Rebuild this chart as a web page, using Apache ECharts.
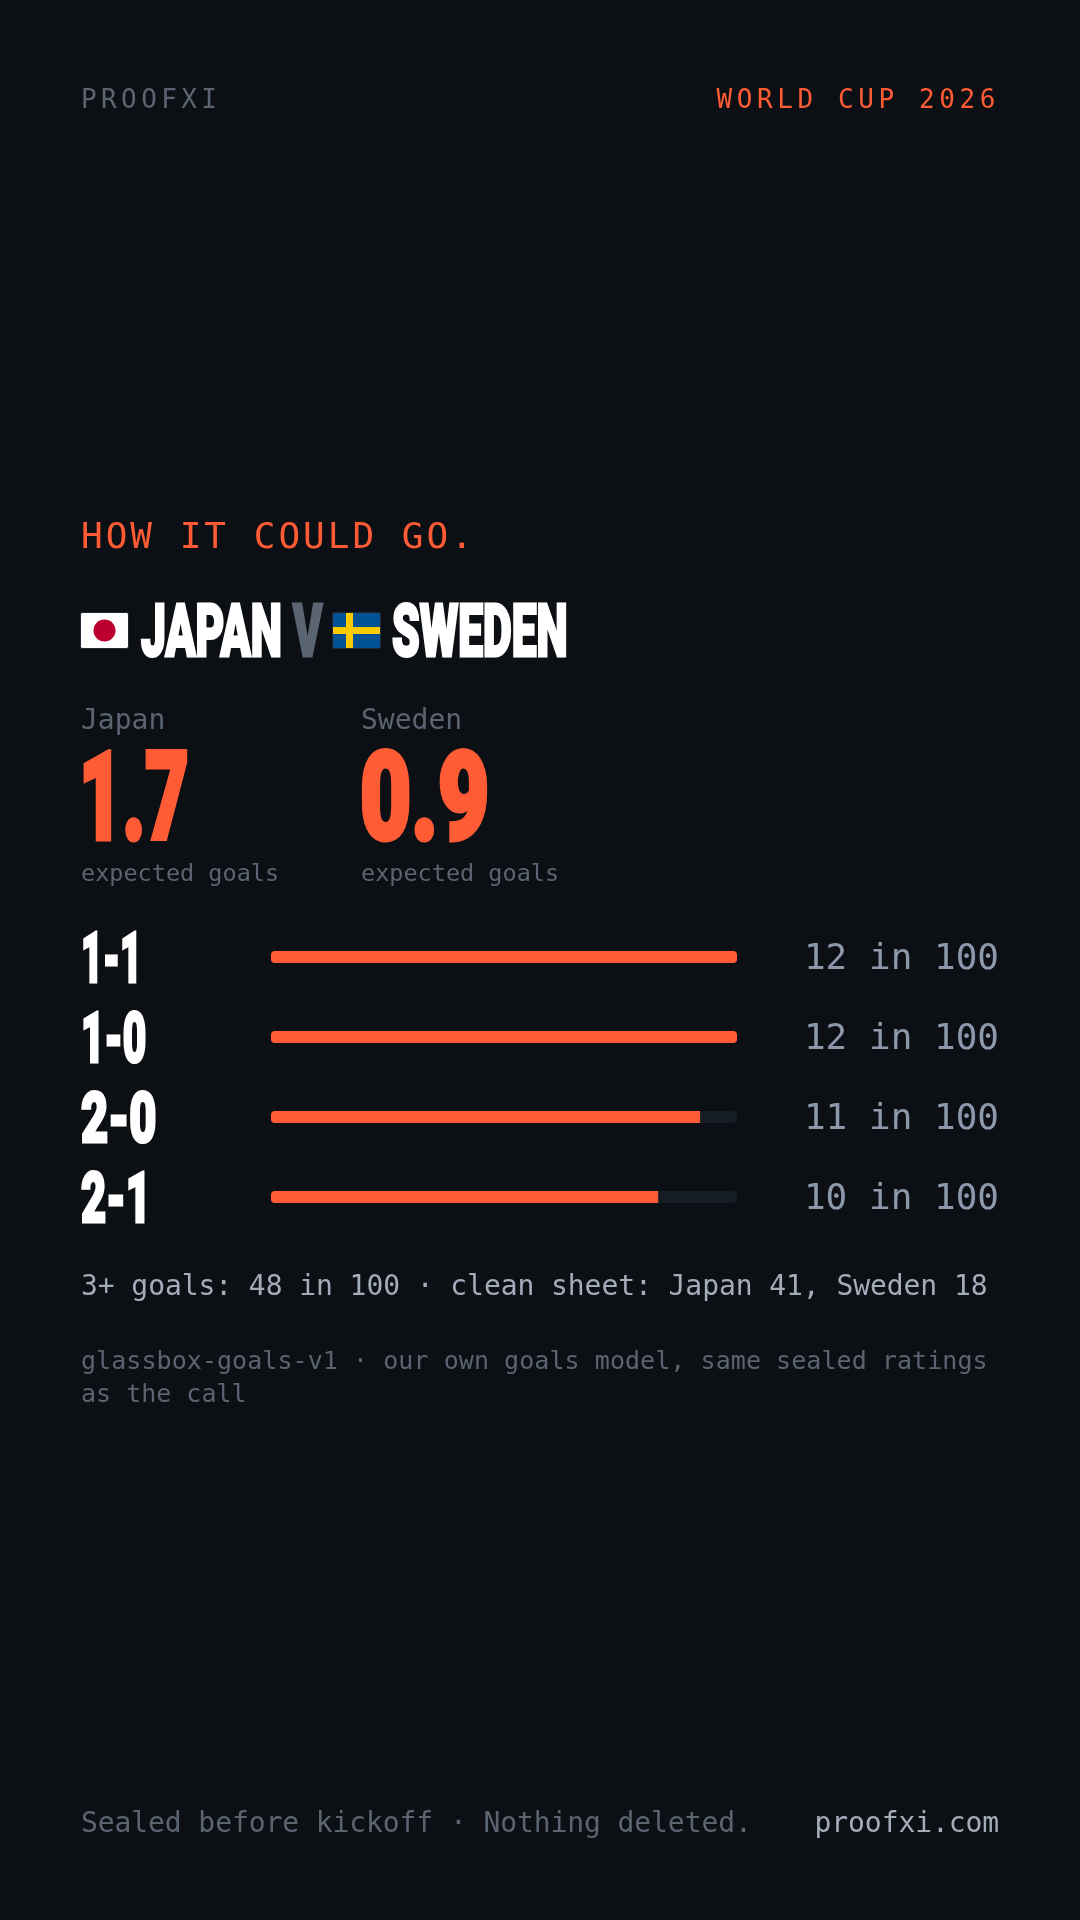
<!DOCTYPE html>
<html><head><meta charset="utf-8">
<style>html,body{margin:0;padding:0;background:#0c0f14}#c{width:1080px;height:1920px}</style>
<script src="https://cdn.jsdelivr.net/npm/echarts@6/dist/echarts.min.js"></script>
</head><body><div id="c"></div>
<script>
// --- data ---
const scorelines = ['1-1', '1-0', '2-0', '2-1'];
const chanceLabels = ['12 in 100', '12 in 100', '11 in 100', '10 in 100'];
const chances = [12, 12, 11.05, 9.97];
const chanceMax = 12;
const teams = ['Japan', 'Sweden'];
const expectedGoals = ['1.7', '0.9'];
const brand = 'PROOFXI';
const tournament = 'WORLD CUP 2026';
const headline = 'HOW IT COULD GO.';
const summary = '3+ goals: 48 in 100 · clean sheet: Japan 41, Sweden 18';
const methodLine1 = 'glassbox-goals-v1 · our own goals model, same sealed ratings';
const methodLine2 = 'as the call';
const footerLeft = 'Sealed before kickoff · Nothing deleted.';
const footerRight = 'proofxi.com';

// --- style ---
const BG = '#0c0f14', ORANGE = '#ff5c35', TRACK = '#151c26', MUTED = '#5b6572', SOFT = '#8d99ab', LIGHT = '#a3adba', WHITE = '#ffffff';
const MONO = '"DejaVu Sans Mono"', DISPLAY = 'Roboto';
const CONDENSE = 0.615;
const condensed = { '0.9': 0.725, '1-1': 0.54, '1-0': 0.58, '2-0': 0.67, '2-1': 0.62 };
const tracked = { [brand]: 4.4, [tournament]: 4.6, [headline]: 3, [summary]: -0.07, [methodLine1]: 0.06, [footerLeft]: -0.09, [footerRight]: -0.09 };

// Canvas text tweaks that ECharts has no option for: tracking, condensed display type and baseline trim
['fillText', 'strokeText'].forEach(function (fn) {
  const orig = CanvasRenderingContext2D.prototype[fn];
  CanvasRenderingContext2D.prototype[fn] = function (t, x, y) {
    this.letterSpacing = (tracked[t] || 0) + 'px';
    const size = parseFloat((this.font.match(/([\d.]+)px/) || [0, 0])[1]);
    if (this.font.indexOf(DISPLAY) >= 0) {
      this.save(); this.lineJoin = 'miter';
      this.translate(x, y + size * 0.1); this.scale(condensed[t] || CONDENSE, 1);
      orig.call(this, t, 0, 0); this.restore();
    } else orig.call(this, t, x, y + size * 0.08);
  };
});

function mono(text, x, y, size, fill, align) {
  return { type: 'text', x: x, y: y, silent: true, style: { text: text, fill: fill, font: size + 'px ' + MONO, align: align || 'left', verticalAlign: 'middle' } };
}
function display(text, x, y, size, fill, border) {
  return { type: 'text', x: x, y: y, silent: true, style: { text: text, fill: fill, font: '900 ' + size + 'px ' + DISPLAY, align: 'left', verticalAlign: 'middle', stroke: fill, lineWidth: border } };
}
const flagEdge = '#1f2937';
const graphic = [
  mono(brand, 81, 99, 26, MUTED),
  mono(tournament, 1000, 99, 26, ORANGE, 'right'),
  mono(headline, 81, 536, 36, ORANGE),
  // Japan flag
  { type: 'rect', shape: { x: 80.5, y: 612.5, width: 48, height: 36, r: 2 }, style: { fill: WHITE, stroke: flagEdge, lineWidth: 1 } },
  { type: 'circle', shape: { cx: 104.5, cy: 630.5, r: 11 }, style: { fill: '#bc002d' } },
  display('JAPAN', 141, 631, 72, WHITE, 3),
  display('V', 293, 631, 72, MUTED, 3),
  // Sweden flag
  { type: 'rect', shape: { x: 332.5, y: 612.5, width: 48, height: 36, r: 2 }, style: { fill: '#005293', stroke: flagEdge, lineWidth: 1 } },
  { type: 'rect', shape: { x: 346, y: 613, width: 7, height: 35 }, style: { fill: '#fecb00' } },
  { type: 'rect', shape: { x: 333, y: 627, width: 47, height: 7 }, style: { fill: '#fecb00' } },
  display('SWEDEN', 392, 631, 72, WHITE, 3),
  mono(teams[0], 81, 719, 28, MUTED),
  mono(teams[1], 361, 719, 28, MUTED),
  display(expectedGoals[0], 79, 796, 122, ORANGE, 5),
  display(expectedGoals[1], 360, 796, 122, ORANGE, 5),
  mono('expected goals', 81, 873, 23.5, MUTED),
  mono('expected goals', 361, 873, 23.5, MUTED),
  mono(summary, 81, 1285, 28, LIGHT),
  mono(methodLine1, 81, 1360, 25, MUTED),
  mono(methodLine2, 81, 1393, 25, MUTED),
  mono(footerLeft, 81, 1822, 28, MUTED),
  mono(footerRight, 999, 1822, 28, LIGHT, 'right')
];

const chart = echarts.init(document.getElementById('c'), null, { renderer: 'canvas', width: 1080, height: 1920 });
chart.setOption({
  animation: false,
  backgroundColor: BG,
  grid: { left: 271, top: 917, width: 466, height: 320 },
  xAxis: { type: 'value', min: 0, max: chanceMax, show: false },
  yAxis: [
    { type: 'category', inverse: true, data: scorelines, axisLine: { show: false }, axisTick: { show: false }, splitLine: { show: false },
      axisLabel: { interval: 0, hideOverlap: false, align: 'left', margin: 190, color: WHITE, fontFamily: DISPLAY, fontWeight: 900, fontSize: 70, textBorderColor: WHITE, textBorderWidth: 3 } },
    { type: 'category', inverse: true, position: 'right', data: chanceLabels, axisLine: { show: false }, axisTick: { show: false }, splitLine: { show: false },
      axisLabel: { interval: 0, align: 'right', margin: 262, color: SOFT, fontFamily: MONO, fontSize: 36 } }
  ],
  series: [{
    type: 'bar', barWidth: 12,
    showBackground: true,
    backgroundStyle: { color: TRACK, borderRadius: 4 },
    data: chances.map(function (v) {
      return { value: v, itemStyle: { color: ORANGE, borderRadius: v >= chanceMax ? 4 : [4, 0, 0, 4] } };
    })
  }],
  graphic: graphic
});
</script></body></html>
